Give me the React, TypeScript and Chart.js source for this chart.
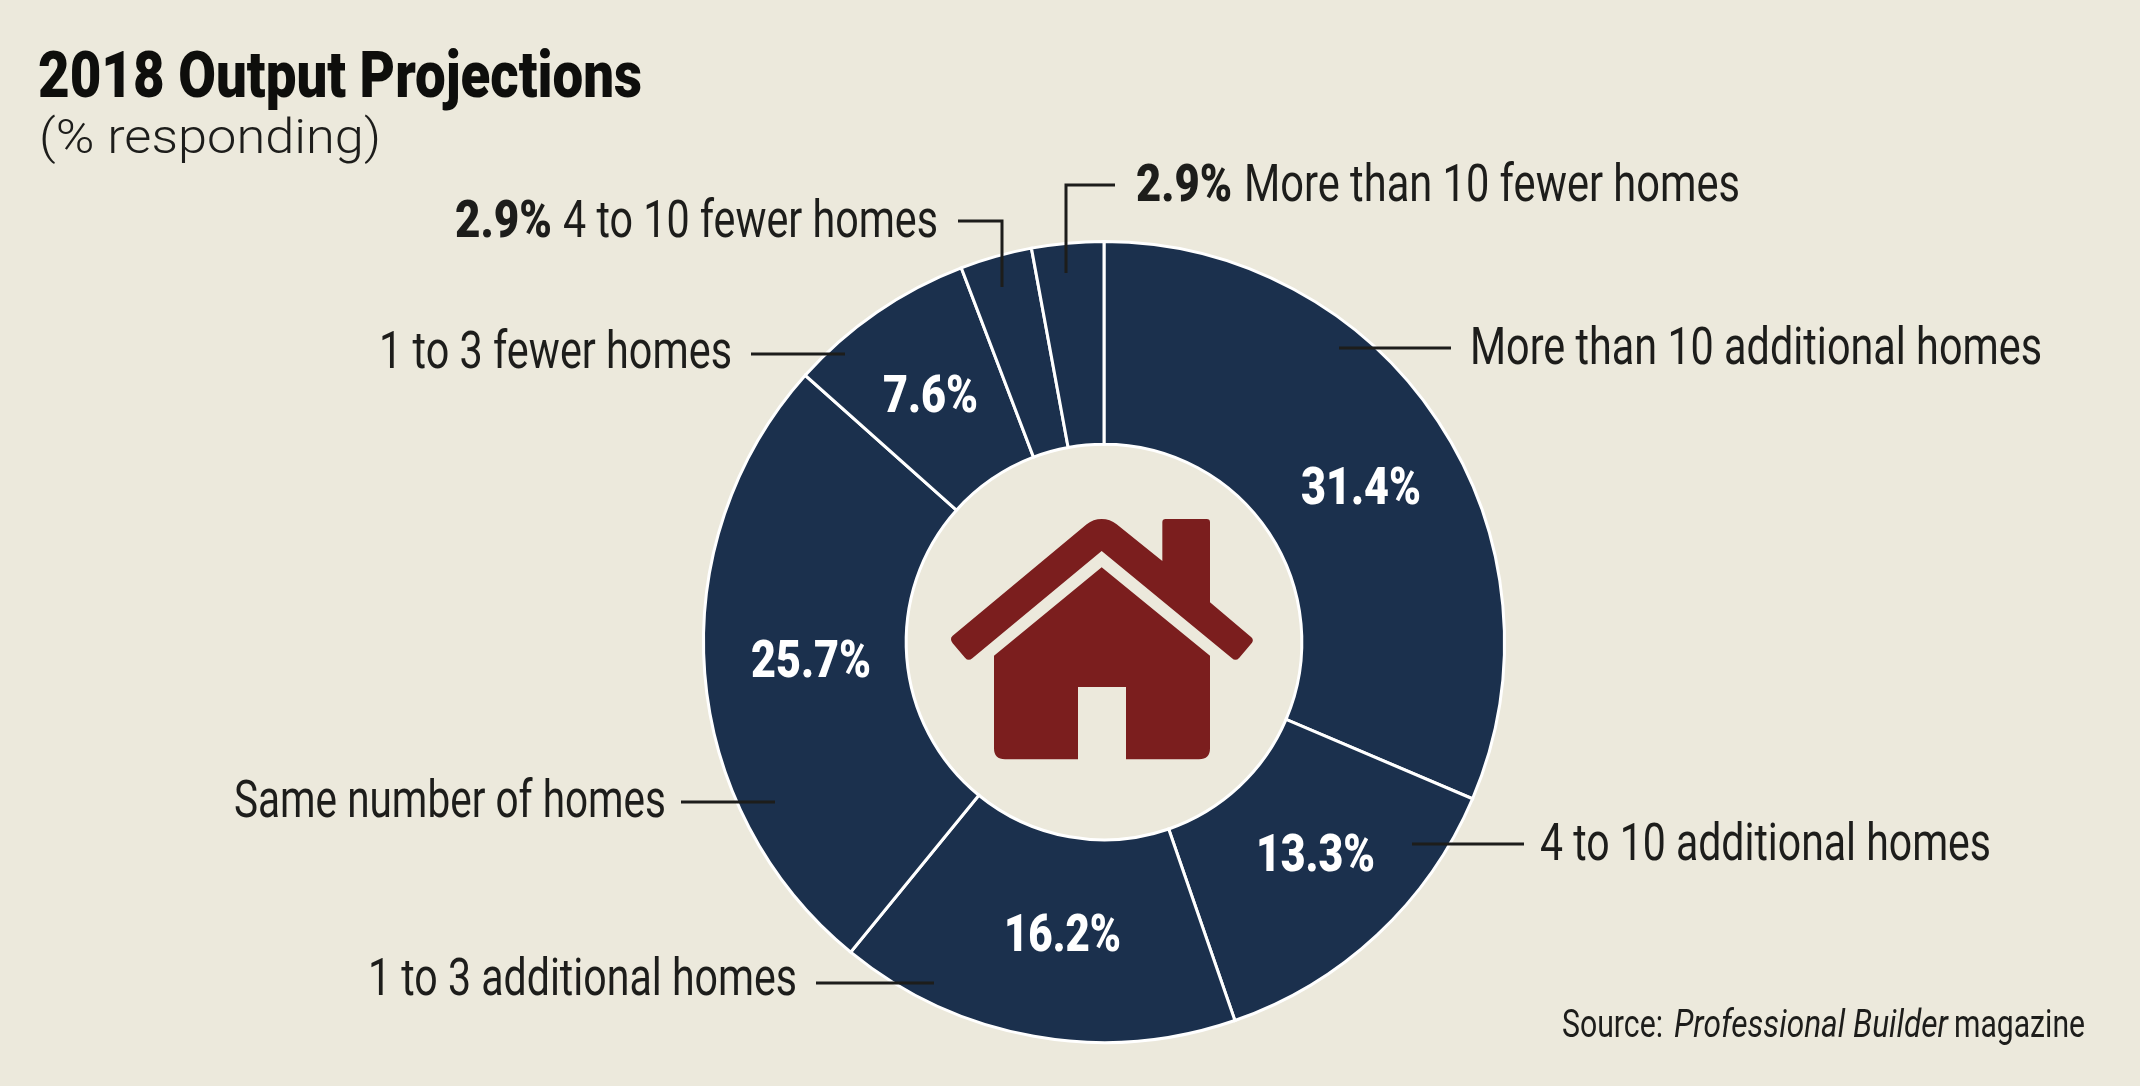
import React, { useEffect, useRef } from "react";
import { Chart, registerables } from "chart.js";

Chart.register(...registerables);

const categories = [
  "More than 10 additional homes",
  "4 to 10 additional homes",
  "1 to 3 additional homes",
  "Same number of homes",
  "1 to 3 fewer homes",
  "4 to 10 fewer homes",
  "More than 10 fewer homes",
];
const values = [31.4, 13.3, 16.2, 25.7, 7.6, 2.9, 2.9];

const BG = "#ECE9DC";
const NAVY = "#1B304D";
const RED = "#7B1E1E";
const INK = "#1D1D1B";

// x, right, baseline of the text inside the slices
const valueBoxes: number[][] = [
  [1301, 1421, 504],
  [1256, 1375, 871],
  [1004, 1121, 951],
  [751, 871, 677],
  [883, 978, 412],
  [455, 552, 237],
  [1136, 1232, 201],
];
// x, right, baseline of the category names
const nameBoxes: number[][] = [
  [1470, 2042, 364],
  [1540, 1991, 860],
  [368, 797, 995],
  [234, 666, 817],
  [379, 732, 368],
  [563, 938, 237],
  [1244, 1740, 201],
];
// leader polylines
const leaders: number[][][] = [
  [[1339, 348], [1451, 348]],
  [[1412, 844], [1524, 844]],
  [[816, 983], [934, 983]],
  [[681, 802], [775, 802]],
  [[751, 354], [845, 354]],
  [[958, 221], [1002, 221], [1002, 287]],
  [[1115, 185], [1066, 185], [1066, 273]],
];

const HOUSE_ROOF =
  "M213 478 Q212 472 218 467 L620 133 Q640 117 665 117 Q690 117 710 133 L847 243 L847 127 Q847 117 857 117 L980 117 Q990 117 990 127 L990 367 L1114 472 Q1122 480 1116 488 L1078 533 Q1067 545 1056 535 L665 213 L277 535 Q265 545 255 533 L218 490 Q213 484 213 478 Z";
const HOUSE_BODY =
  "M665 262 L990 527 L990 805 Q990 838 957 838 L738 838 L738 621 L594 621 L594 838 L375 838 Q342 838 342 805 L342 527 Z";

type Opt = { font: string; color: string };

function fitText(ctx: CanvasRenderingContext2D, text: string, x: number, right: number, y: number, o: Opt) {
  ctx.save();
  ctx.font = o.font;
  ctx.fillStyle = o.color;
  ctx.textAlign = "left";
  ctx.textBaseline = "alphabetic";
  const w = ctx.measureText(text).width;
  ctx.translate(x, y);
  ctx.scale((right - x) / w, 1);
  ctx.fillText(text, 0, 0);
  ctx.restore();
}

const LIGHT = "400 51px Roboto";
const BOLD = "900 52px Roboto";

const annotations = {
  id: "annotations",
  afterDraw(chart: Chart) {
    const ctx = chart.ctx;
    // house
    ctx.save();
    ctx.translate(880, 480);
    ctx.scale(1 / 3, 1 / 3);
    ctx.fillStyle = RED;
    ctx.fill(new Path2D(HOUSE_ROOF));
    ctx.fill(new Path2D(HOUSE_BODY));
    ctx.restore();

    // leaders
    ctx.save();
    ctx.strokeStyle = INK;
    ctx.lineWidth = 3;
    leaders.forEach((pts) => {
      ctx.beginPath();
      pts.forEach(([x, y], i) => (i ? ctx.lineTo(x, y) : ctx.moveTo(x, y)));
      ctx.stroke();
    });
    ctx.restore();

    // headline
    fitText(ctx, "2018 Output Projections", 38, 642, 97, { font: "900 65px Roboto", color: "#0E0E0C" });
    fitText(ctx, "(% responding)", 39, 381, 153, { font: "300 49px Roboto", color: INK });

    // labels
    values.forEach((v, i) => {
      const [vx, vr, vy] = valueBoxes[i];
      const color = i < 5 ? "#FFFFFF" : INK;
      fitText(ctx, `${v.toFixed(1)}%`, vx, vr, vy, { font: BOLD, color });
      const [nx, nr, ny] = nameBoxes[i];
      fitText(ctx, categories[i], nx, nr, ny, { font: LIGHT, color: INK });
    });

    // source
    fitText(ctx, "Source:", 1562, 1663, 1037, { font: "400 38px Roboto", color: INK });
    fitText(ctx, "Professional Builder", 1674, 1948, 1037, { font: "italic 400 38px Roboto", color: INK });
    fitText(ctx, "magazine", 1954, 2085, 1037, { font: "400 38px Roboto", color: INK });
  },
};

export default function App() {
  const ref = useRef<HTMLCanvasElement>(null);
  useEffect(() => {
    document.body.style.margin = "0";
    document.body.style.background = BG;
    const chart = new Chart(ref.current!, {
      type: "doughnut",
      data: {
        labels: categories,
        datasets: [
          {
            data: values,
            backgroundColor: NAVY,
            borderColor: "#FFFFFF",
            borderWidth: 3,
            borderJoinStyle: "miter",
            hoverOffset: 0,
          },
        ],
      },
      options: {
        responsive: false,
        animation: false,
        devicePixelRatio: 1,
        cutout: "49.4%",
        rotation: 0,
        layout: { padding: { left: 702, right: 634, top: 240, bottom: 42 } },
        plugins: { legend: { display: false }, title: { display: false }, tooltip: { enabled: false } },
      },
      plugins: [annotations],
    });
    return () => chart.destroy();
  }, []);
  return (
    <div style={{ width: 2140, height: 1086, background: BG, overflow: "hidden" }}>
      <canvas ref={ref} width={2140} height={1086} style={{ display: "block" }} />
    </div>
  );
}
